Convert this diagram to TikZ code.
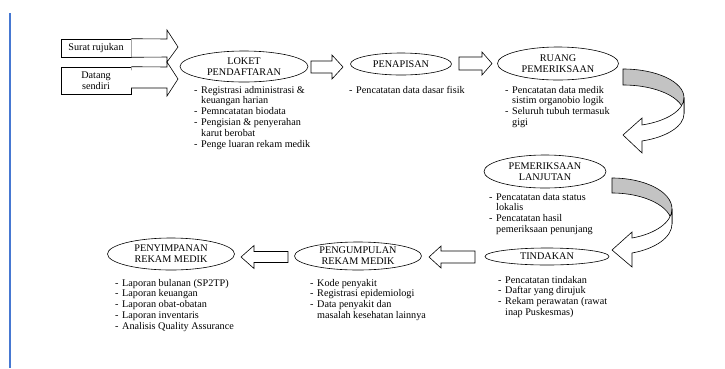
\documentclass[tikz,border=0pt]{standalone}
\usepackage{fontspec}
\setmainfont{Liberation Serif}
\usetikzlibrary{shapes.geometric}
\definecolor{sideblue}{RGB}{70,120,210}
\definecolor{backgray}{RGB}{195,195,195}
\newcommand\itm{\makebox[7pt][l]{-}}
\newcommand\cnt{\hspace*{7pt}}
\begin{document}
\begin{tikzpicture}[x=1pt,y=-1pt,
  every node/.style={font=\fontsize{10.2}{10.9}\selectfont, inner sep=0pt},
  station/.style={draw=black, line width=0.6pt, ellipse, fill=white, align=center, inner sep=0pt},
  srcbox/.style={draw=black, line width=0.6pt, rectangle, fill=white, align=center},
  blockarr/.style={draw=black, line width=0.6pt, fill=white, line join=miter},
  curvback/.style={draw=black, line width=0.6pt, fill=backgray},
  curvfront/.style={draw=black, line width=0.6pt, fill=white},
  notes/.style={align=left, anchor=north west, execute at begin node={\strut}}
]
\useasboundingbox (0,0) rectangle (725,368);
\fill[white] (0,0) rectangle (725,368);
\draw[sideblue, line width=2pt] (10,13) -- (10,368);

% source boxes
\node[srcbox, minimum width=70pt, minimum height=18pt] (surat) at (96,48) {Surat rujukan};
\node[srcbox, minimum width=70pt, minimum height=27pt] (datang) at (96,80.5) {Datang\\sendiri};

% stations
\node[station, minimum width=128pt, minimum height=31pt] (loket) at (244,66.5) {LOKET\\PENDAFTARAN};
\node[station, minimum width=101pt, minimum height=22pt] (penapisan) at (401,64) {PENAPISAN};
\node[station, minimum width=121pt, minimum height=33pt] (ruang) at (558,63.5) {RUANG\\PEMERIKSAAN};
\node[station, minimum width=122pt, minimum height=33pt] (lanjutan) at (545,171.5) {PEMERIKSAAN\\LANJUTAN};
\node[station, minimum width=124pt, minimum height=17pt] (tindakan) at (547,256.5) {TINDAKAN};
\node[station, minimum width=127pt, minimum height=28pt] (pengumpulan) at (358,256) {PENGUMPULAN\\REKAM MEDIK};
\node[station, minimum width=127pt, minimum height=32pt] (penyimpanan) at (171,254) {PENYIMPANAN\\REKAM MEDIK};

% entry block arrows
\draw[blockarr] (surat.north east) -- (167,39) -- (167,30) -- (178,47) -- (167,62) -- (167,57) -- (surat.south east);
\draw[blockarr] (datang.north east) -- (167,67) -- (167,62) -- (178,79) -- (167,96) -- (167,88) -- (131,88);

% straight block arrows
\draw[blockarr] (311,61) -- (332,61) -- (332,55) -- (343,67) -- (332,79) -- (332,73) -- (311,73) -- cycle;
\draw[blockarr] (459,57) -- (482,57) -- (482,52) -- (492,63.5) -- (482,75) -- (482,70) -- (459,70) -- cycle;
\draw[blockarr] (475,251) -- (441,251) -- (441,246) -- (429,257) -- (441,268) -- (441,263) -- (475,263) -- cycle;
\draw[blockarr] (288,251.5) -- (254,251.5) -- (254,245.5) -- (241,257) -- (254,268.5) -- (254,262.5) -- (288,262.5) -- cycle;

% curved arrow 1 (ruang -> lanjutan)
\draw[curvback] (623,69) arc[start angle=-90, end angle=0, x radius=61, y radius=28.7]
  -- (684,113.7) arc[start angle=0, end angle=-90, x radius=61, y radius=28.7] -- cycle;
\draw[curvfront] (684,97.7) arc[start angle=0, end angle=71.85, x radius=61, y radius=28.7]
  -- (642,118) -- (623,135) -- (642,153) -- (642,140.97)
  arc[start angle=71.85, end angle=0, x radius=61, y radius=28.7] -- cycle;

% curved arrow 2 (lanjutan -> tindakan)
\draw[curvback] (612,178) arc[start angle=-90, end angle=0, x radius=60, y radius=30.9]
  -- (672,223.9) arc[start angle=0, end angle=-90, x radius=60, y radius=30.9] -- cycle;
\draw[curvfront] (672,208.9) arc[start angle=0, end angle=70.53, x radius=60, y radius=30.9]
  -- (632,232) -- (612,250) -- (632,267) -- (632,253.0)
  arc[start angle=70.53, end angle=0, x radius=60, y radius=30.9] -- cycle;

% notes
\node[notes] (nloket) at (194,85.8) {\itm Registrasi administrasi \&\\ \cnt keuangan harian\\ \itm Pemncatatan biodata\\ \itm Pengisian \& penyerahan\\ \cnt karut berobat\\ \itm Penge luaran rekam medik};
\node[notes] (npenapisan) at (349,85.8) {\itm Pencatatan data dasar fisik};
\node[notes] (nruang) at (505,85.8) {\itm Pencatatan data medik\\ \cnt sistim organobio logik\\ \itm Seluruh tubuh termasuk\\ \cnt gigi};
\node[notes] (nlanjutan) at (489,192.8) {\itm Pencatatan data status\\ \cnt lokalis\\ \itm Pencatatan hasil\\ \cnt pemeriksaan penunjang};
\node[notes] (ntindakan) at (498,275.8) {\itm Pencatatan tindakan\\ \itm Daftar yang dirujuk\\ \itm Rekam perawatan (rawat\\ \cnt inap Puskesmas)};
\node[notes] (npengumpulan) at (310,278.8) {\itm Kode penyakit\\ \itm Registrasi epidemiologi\\ \itm Data penyakit dan\\ \cnt masalah kesehatan lainnya};
\node[notes] (npenyimpanan) at (115,278.8) {\itm Laporan bulanan (SP2TP)\\ \itm Laporan keuangan\\ \itm Laporan obat-obatan\\ \itm Laporan inventaris\\ \itm Analisis Quality Assurance};
\end{tikzpicture}
\end{document}
